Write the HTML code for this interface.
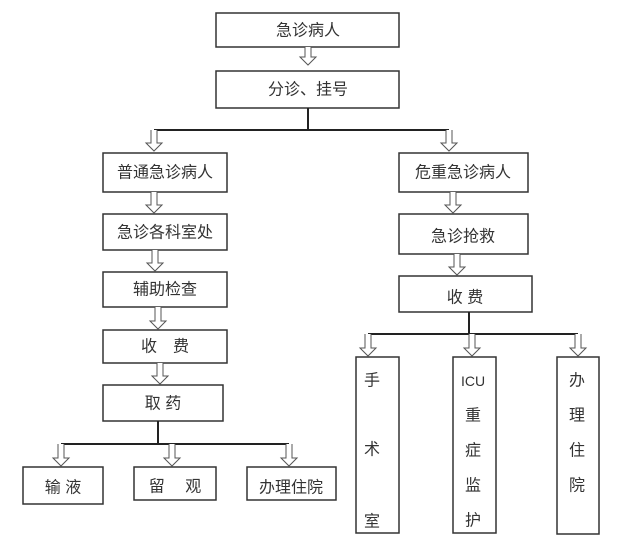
<!DOCTYPE html>
<html><head><meta charset="utf-8"><style>
html,body{margin:0;padding:0;background:#fff;}
svg{display:block;}
text{font-family:"Liberation Sans","Noto Sans CJK SC",sans-serif;font-size:16px;fill:#333;text-anchor:middle;dominant-baseline:central;}
</style></head><body>
<svg width="624" height="556" viewBox="0 0 624 556" xmlns="http://www.w3.org/2000/svg">
<g fill="#fff" stroke="#333" stroke-width="1.5">
<rect x="216" y="13" width="183" height="34"/>
<rect x="216" y="71" width="183" height="37"/>
<rect x="103" y="153" width="124" height="39"/>
<rect x="103" y="214" width="124" height="36"/>
<rect x="103" y="272" width="124" height="35"/>
<rect x="103" y="330" width="124" height="33"/>
<rect x="103" y="385" width="120" height="36"/>
<rect x="23" y="467" width="80" height="37"/>
<rect x="134" y="467" width="82" height="33"/>
<rect x="247" y="467" width="89" height="33"/>
<rect x="399" y="153" width="129" height="39"/>
<rect x="399" y="214" width="129" height="40"/>
<rect x="399" y="276" width="133" height="36"/>
<rect x="356" y="357" width="43" height="176"/>
<rect x="453" y="357" width="43" height="176"/>
<rect x="557" y="357" width="42" height="177"/>
</g>
<g stroke="#222" stroke-width="2" fill="none">
<path d="M308 108V130M154 130H449"/>
<path d="M158 421V444M61 444H289"/>
<path d="M469 312V334M368 334H578"/>
</g>
<g fill="#fff" stroke="#555" stroke-width="1">
<!-- arrows: x center, y1, y2 -->
<path d="M305 47V57h-5l8 8 8-8h-5V47"/>
<path d="M151 130V143h-5l8 8 8-8h-5V130"/>
<path d="M446 130V143h-5l8 8 8-8h-5V130"/>
<path d="M151 192V205h-5l8 8 8-8h-5V192"/>
<path d="M152 250V263h-5l8 8 8-8h-5V250"/>
<path d="M155 307V321h-5l8 8 8-8h-5V307"/>
<path d="M157 363V376h-5l8 8 8-8h-5V363"/>
<path d="M450 192V205h-5l8 8 8-8h-5V192"/>
<path d="M454 254V267h-5l8 8 8-8h-5V254"/>
<path d="M58 444V458h-5l8 8 8-8h-5V444"/>
<path d="M169 444V458h-5l8 8 8-8h-5V444"/>
<path d="M286 444V458h-5l8 8 8-8h-5V444"/>
<path d="M365 334V348h-5l8 8 8-8h-5V334"/>
<path d="M469 334V348h-5l8 8 8-8h-5V334"/>
<path d="M575 334V348h-5l8 8 8-8h-5V334"/>
</g>
<text x="308" y="31">急诊病人</text>
<text x="308" y="90">分诊、挂号</text>
<text x="165" y="173">普通急诊病人</text>
<text x="165" y="233">急诊各科室处</text>
<text x="165" y="290">辅助检查</text>
<text x="165" y="347">收　费</text>
<text x="163" y="404">取 药</text>
<text x="63" y="488">输 液</text>
<text x="175" y="487">留　 观</text>
<text x="291" y="488">办理住院</text>
<text x="463" y="173">危重急诊病人</text>
<text x="463" y="237">急诊抢救</text>
<text x="465" y="298">收 费</text>
<text x="372" y="381">手</text>
<text x="372" y="450">术</text>
<text x="372" y="522">室</text>
<text x="473" y="381" style="font-size:14px">ICU</text>
<text x="473" y="416">重</text>
<text x="473" y="451">症</text>
<text x="473" y="486">监</text>
<text x="473" y="521">护</text>
<text x="577" y="381">办</text>
<text x="577" y="416">理</text>
<text x="577" y="451">住</text>
<text x="577" y="486">院</text>
</svg>
</body></html>
